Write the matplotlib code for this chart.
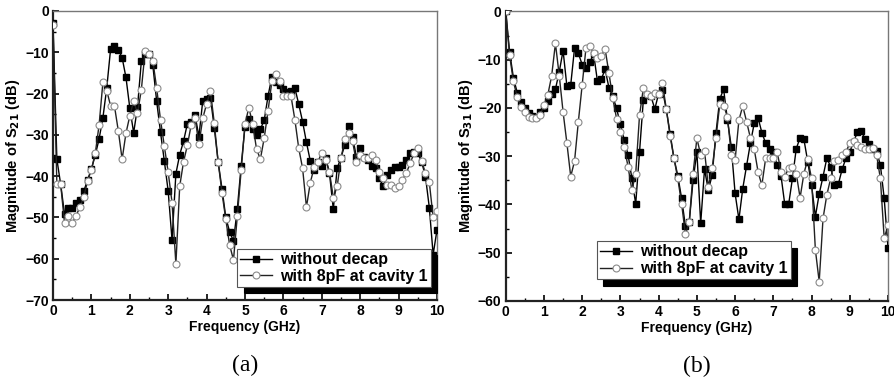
import numpy as np
import matplotlib.pyplot as plt
from matplotlib.ticker import MultipleLocator

freq = np.linspace(0, 10, 101)

s21_no_decap = [
    -3, -35.9, -42, -49.2, -47.8, -47.8, -46.6, -45.8, -43.7, -40.9,
    -38.3, -34.9, -31, -25.8, -18.6, -9.2, -8.5, -9.4, -11.3, -16.1,
    -23.5, -29.5, -23.3, -12.2, -10.5, -10.3, -13.2, -21.9, -29.4, -36.4,
    -43.7, -55.5, -39.4, -34.8, -31.5, -27.3, -27, -25.3, -30.4, -21.7,
    -21.4, -21, -28.3, -36.5, -43, -50, -53.5, -55.7, -47.9, -37.5,
    -28, -26.1, -28.6, -30, -28.6, -26.5, -20.6, -15.9, -17.1, -18,
    -19, -19.5, -19.4, -18.7, -22.6, -26.8, -31.8, -36.3, -38.5, -36.5,
    -37.5, -35.5, -39.3, -48, -38.1, -35.5, -32.4, -27.8, -30.4, -35.3,
    -33.1, -35.3, -36.1, -37.5, -38, -40.5, -42.5, -39.7, -38.5, -37.9,
    -37.7, -37.3, -36.1, -34.5, -34.1, -34.5, -36.5, -40.1, -47.6, -59,
    -53]

s21_8pf = [
    -3.3, -41.9, -42, -51.4, -49.6, -51.4, -49.6, -47.5, -45, -41.2,
    -38.4, -34.5, -27.6, -17.2, -19.3, -23, -23, -29, -35.9, -29.6,
    -25.4, -21.8, -24.8, -19.1, -9.6, -10.3, -12.1, -18.7, -26.4, -32.8,
    -39.1, -46.4, -61.3, -42.4, -36.5, -32.5, -27.5, -26, -32.3, -26,
    -22.5, -19.4, -27.2, -36.5, -44, -50.5, -56.7, -60.3, -49.7, -38.6,
    -27.4, -23.4, -27.4, -33.4, -35.9, -30.8, -24.2, -17, -15.3, -16.9,
    -20.5, -20.7, -20.7, -26.4, -33.3, -38.1, -47.5, -41.6, -37.9, -36.5,
    -34.3, -36, -39, -45.2, -42.5, -35.7, -31.1, -29.6, -31.5, -36.6,
    -35, -35.7, -35.5, -35, -36.1, -38.9, -40.5, -42.1, -42.1, -42.9,
    -42.5, -40.9, -39.3, -36.9, -34.5, -33.1, -36.3, -39.3, -41.5, -50,
    -48.5]

s31_no_decap = [
    0, -8.3, -13.7, -16.8, -18.8, -20.1, -21.1, -21.7, -21.8, -20.8,
    -19.9, -18.5, -17.2, -16.1, -12.5, -8.1, -15.5, -15.2, -7.6, -8.7,
    -11, -11.8, -10.5, -8.8, -14.5, -14, -12, -15.8, -17.6, -20.1,
    -23.4, -26.6, -29.7, -34.6, -39.9, -29.1, -18.3, -17.3, -17.6, -20.2,
    -17, -16.3, -20.3, -25.3, -30.4, -34, -38.7, -44.5, -43.7, -35,
    -29.1, -43.9, -32.7, -37, -33.9, -25.1, -18.1, -16.1, -22.5, -28,
    -37.7, -43.1, -36.7, -32, -27.3, -23.2, -22, -25.1, -27.3, -28.4,
    -29.1, -31.8, -34, -40, -40, -34.6, -28.4, -26.2, -26.5, -31.1,
    -36, -42.5, -37.8, -34.2, -30.4, -32.2, -36, -35.8, -32.7, -30.4,
    -29.1, -27, -25, -24.8, -26.4, -27.5, -28.5, -29, -31.8, -38.7,
    -49]

s31_8pf = [
    0, -9, -14.5, -17.7, -19.7, -20.9, -21.8, -22, -22, -21.5,
    -19.4, -17.3, -13.4, -6.6, -13.3, -20.8, -27.3, -34.2, -31, -22.8,
    -15.2, -7.5, -7.1, -8.7, -9.7, -9.2, -7.8, -12.8, -18, -22.2,
    -24.9, -28, -32.2, -37, -33.6, -21.5, -15.9, -17.2, -17.5, -16.8,
    -17, -14.9, -20.2, -25.8, -30.4, -34.6, -39.8, -46.2, -43.6, -33.6,
    -26.3, -29.7, -28.9, -36.3, -32.5, -26.2, -19.1, -19.5, -21.8, -29.7,
    -30.8, -22.5, -19.6, -22.8, -26.2, -28.5, -33.2, -36, -30.4, -30.4,
    -30.3, -29.1, -33.2, -34.2, -32.5, -32.2, -33.6, -38.6, -33.6, -30.6,
    -34.6, -49.4, -56, -42.9, -38, -34.6, -30.9, -30.8, -29.7, -29.1,
    -27.3, -26.9, -27.7, -28, -28.4, -28.5, -28.2, -29.7, -34.6, -47,
    -44.3]

labels = ["without decap", "with 8pF at cavity 1"]

plt.rcParams['font.family'] = ['Liberation Sans', 'DejaVu Sans']
plt.rcParams['font.weight'] = 'bold'

fig = plt.figure(figsize=(8.94, 3.83), dpi=100)
ax1 = fig.add_axes([0.0593, 0.2167, 0.4295, 0.7546])
ax2 = fig.add_axes([0.5657, 0.2141, 0.4276, 0.7559])


def draw_panel(ax, y1, y2, ylabel, ymin, sub, legend_anchor):
    ax.plot(freq, y1, '-', color='black', lw=1.0, marker='s', ms=4.4,
            mfc='black', mec='black', label=labels[0], zorder=3)
    ax.plot(freq, y2, '-', color='#222222', lw=1.0, marker='o', ms=5.0,
            mfc='white', mec='#8a8a8a', mew=0.8, label=labels[1], zorder=4)
    ax.set_xlim(0, 10)
    ax.set_ylim(ymin, 0)
    ax.xaxis.set_major_locator(MultipleLocator(1))
    ax.xaxis.set_minor_locator(MultipleLocator(0.5))
    ax.yaxis.set_major_locator(MultipleLocator(10))
    ax.yaxis.set_minor_locator(MultipleLocator(5))
    ax.tick_params(which='both', direction='in', top=False, right=False,
                   labelsize=10, pad=3)
    ax.tick_params(which='major', length=4, width=1.2)
    ax.tick_params(which='minor', length=2.5, width=1.0)
    for side in ['left', 'bottom']:
        ax.spines[side].set_linewidth(1.6)
        ax.spines[side].set_color('#222222')
    for side in ['top', 'right']:
        ax.spines[side].set_linewidth(1.0)
        ax.spines[side].set_color('#777777')
    ax.set_xlabel("Frequency (GHz)", fontsize=10, fontweight='bold', labelpad=1)
    ax.set_ylabel(ylabel, fontsize=10.5, fontweight='bold', labelpad=2)
    leg = ax.legend(loc='lower right', bbox_to_anchor=legend_anchor,
                    fontsize=11.5, handlelength=2.0, handletextpad=0.5,
                    borderpad=0.2, labelspacing=0.1, fancybox=False,
                    frameon=True, edgecolor='#555555', borderaxespad=0,
                    shadow={'color': 'black', 'alpha': 1, 'ox': 4.5, 'oy': -4.5})
    leg.get_frame().set_linewidth(0.8)
    for t in leg.get_texts():
        t.set_fontweight('bold')
    ax.text(0.5, -0.19, sub, transform=ax.transAxes, ha='center', va='top',
            fontsize=17, fontweight='normal', family='Liberation Serif')


draw_panel(ax1, s21_no_decap, s21_8pf, "Magnitude of S$_{\\mathbf{21}}$ (dB)",
           -70, "(a)", (0.985, 0.045))
draw_panel(ax2, s31_no_decap, s31_8pf, "Magnitude of S$_{\\mathbf{31}}$ (dB)",
           -60, "(b)", (0.745, 0.075))

fig.savefig("out.png", dpi=100)
